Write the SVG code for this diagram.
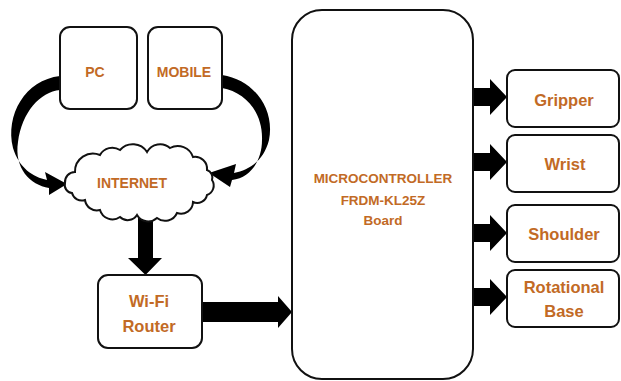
<svg xmlns="http://www.w3.org/2000/svg" width="621" height="381" viewBox="0 0 621 381">
<style>
.box{fill:#fff;stroke:#111;stroke-width:2}
.t{font-family:"Liberation Sans",Arial,sans-serif;font-weight:bold;fill:#C26A25;text-anchor:middle}
.s14{font-size:14px}
.s13{font-size:13.5px}
.s16{font-size:16.5px}
.arr{fill:#000;stroke:none}
</style>
<rect width="621" height="381" fill="#fff"/>
<g id="connectors">
<path class="arr" d="M60,76 C25,80 5,115 13,148 C19,168 33,177 47,180 L45,172 L67,184 L49,195 L49,188 C30,185 14,168 18,142 C22,112 40,92 60,90 Z"/>
<path class="arr" d="M222,75 C255,80 275,110 269,140 C264,160 250,170 234,173 L236,164 L209,173 L230,187 L232,180 C251,178 262,160 262,140 C263,112 245,92 222,88 Z"/>
<path class="arr" d="M138,218 H153 V258 H162 L145.5,275 L128,258 H138 Z"/>
<path class="arr" d="M202,302 H278 V296 L292,312 L278,328 V322 H202 Z"/>
<path class="arr" d="M473,88 H490 V79 L507,97 L490,115 V106 H473 Z"/>
<path class="arr" d="M473,153 H490 V144 L507,162 L490,180 V171 H473 Z"/>
<path class="arr" d="M473,224 H490 V215 L507,233 L490,251 V242 H473 Z"/>
<path class="arr" d="M473,288 H490 V279 L507,297 L490,315 V306 H473 Z"/>
</g>
<g id="pc">
<rect class="box" x="60" y="27" width="77" height="82" rx="10"/>
<text class="t s14" x="95" y="77">PC</text>
</g>
<g id="mobile">
<rect class="box" x="148" y="27" width="74" height="82" rx="10"/>
<text class="t s14" x="184" y="77">MOBILE</text>
</g>
<g id="internet">
<path class="box" d="M65,183 A10,10 0 0 1 75,172 A18,18 0 0 1 100,155 A14,14 0 0 1 120,150 A17,17 0 0 1 147,152 A15,15 0 0 1 170,148 A16,16 0 0 1 193,157 A12,12 0 0 1 207,170 A8,8 0 0 1 212,180 A10,10 0 0 1 207,195 A10,10 0 0 1 193,202 A12,12 0 0 1 177,213 A13,13 0 0 1 157,218 A13,13 0 0 1 137,215 A11,11 0 0 1 120,217 A13,13 0 0 1 100,210 A12,12 0 0 1 85,200 A10,10 0 0 1 72,193 A8,8 0 0 1 65,183 Z"/>
<text class="t s14" x="132" y="188">INTERNET</text>
</g>
<g id="router">
<rect class="box" x="98" y="275" width="104" height="73" rx="10"/>
<text class="t s16" x="149" y="307">Wi-Fi</text>
<text class="t s16" x="149" y="332">Router</text>
</g>
<g id="microcontroller">
<rect class="box" x="292" y="10" width="181" height="369" rx="30"/>
<text class="t s13" x="383" y="183">MICROCONTROLLER</text>
<text class="t s13" x="383" y="205">FRDM-KL25Z</text>
<text class="t s13" x="383" y="225">Board</text>
</g>
<g id="gripper">
<rect class="box" x="507" y="70" width="112" height="57" rx="8"/>
<text class="t s16" x="564" y="106">Gripper</text>
</g>
<g id="wrist">
<rect class="box" x="507" y="135" width="112" height="57" rx="8"/>
<text class="t s16" x="565" y="170">Wrist</text>
</g>
<g id="shoulder">
<rect class="box" x="507" y="205" width="112" height="57" rx="8"/>
<text class="t s16" x="564" y="240">Shoulder</text>
</g>
<g id="rotational-base">
<rect class="box" x="507" y="270" width="112" height="57" rx="8"/>
<text class="t s16" x="564" y="293">Rotational</text>
<text class="t s16" x="564" y="317">Base</text>
</g>
</svg>
